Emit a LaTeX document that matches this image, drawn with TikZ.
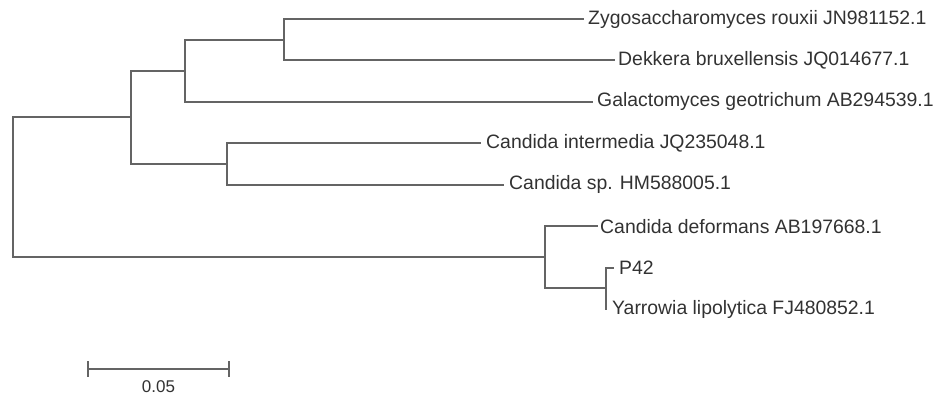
\documentclass[tikz,border=0pt]{standalone}
\usepackage{fontspec}
\setmainfont{Liberation Sans}
\usetikzlibrary{positioning}
\definecolor{branchgray}{RGB}{100,100,100}
\definecolor{labelgray}{RGB}{50,50,50}
\tikzset{
  branch/.style={draw=branchgray, line width=2.2pt, line cap=rect, line join=miter},
  leaflabel/.style={inner sep=0pt, anchor=west, text=labelgray,
    font=\fontsize{19.4}{19.4}\selectfont},
  scalelabel/.style={inner sep=0pt, text=labelgray,
    font=\fontsize{17}{17}\selectfont}
}
\begin{document}
\begin{tikzpicture}[x=1pt, y=-1pt]
\useasboundingbox (0,0) rectangle (941,398);

% internal nodes of the tree
\coordinate (R) at (13,187.3);
\coordinate (A) at (131,117.4);
\coordinate (B) at (185,70.8);
\coordinate (C) at (284,39.7);
\coordinate (D) at (227,164);
\coordinate (E) at (545,257.2);
\coordinate (F) at (606,288.3);

% branch tips
\coordinate (t1) at (583,19);
\coordinate (t2) at (614,60.4);
\coordinate (t3) at (592,101.9);
\coordinate (t4) at (480,143.3);
\coordinate (t5) at (503,184.7);
\coordinate (t6) at (597,226.1);
\coordinate (t7) at (613,267.6);
\coordinate (t8) at (606,309);

% taxon names
\node[leaflabel, right=5pt of t1] (n1) {Zygosaccharomyces rouxii JN981152.1};
\node[leaflabel, right=4pt of t2] (n2) {Dekkera bruxellensis JQ014677.1};
\node[leaflabel, right=5pt of t3] (n3) {Galactomyces geotrichum AB294539.1};
\node[leaflabel, right=6pt of t4] (n4) {Candida intermedia JQ235048.1};
\node[leaflabel, right=6pt of t5] (n5) {Candida sp. HM588005.1};
\node[leaflabel, right=3pt of t6] (n6) {Candida deformans AB197668.1};
\node[leaflabel, right=6pt of t7] (n7) {P42};
\node[leaflabel, right=6pt of t8] (n8) {Yarrowia lipolytica FJ480852.1};

% branches
\draw[branch] (R) |- (A);
\draw[branch] (R) |- (E);
\draw[branch] (A) |- (B);
\draw[branch] (A) |- (D);
\draw[branch] (B) |- (C);
\draw[branch] (B) |- (t3);
\draw[branch] (C) |- (t1);
\draw[branch] (C) |- (t2);
\draw[branch] (D) |- (t4);
\draw[branch] (D) |- (t5);
\draw[branch] (E) |- (t6);
\draw[branch] (E) |- (F);
\draw[branch] (F) |- (t7);
\draw[branch] (F) |- (t8);

% scale bar
\coordinate (s1) at (88,369);
\coordinate (s2) at (229,369);
\draw[branch, line cap=butt] (s1) -- (s2);
\draw[branch, line cap=butt, line width=1.6pt] ([yshift=8pt]s1) -- ([yshift=-8pt]s1);
\draw[branch, line cap=butt, line width=1.6pt] ([yshift=8pt]s2) -- ([yshift=-8pt]s2);
\node[scalelabel] (sl) at (158.5,387) {0.05};
\end{tikzpicture}
\end{document}
